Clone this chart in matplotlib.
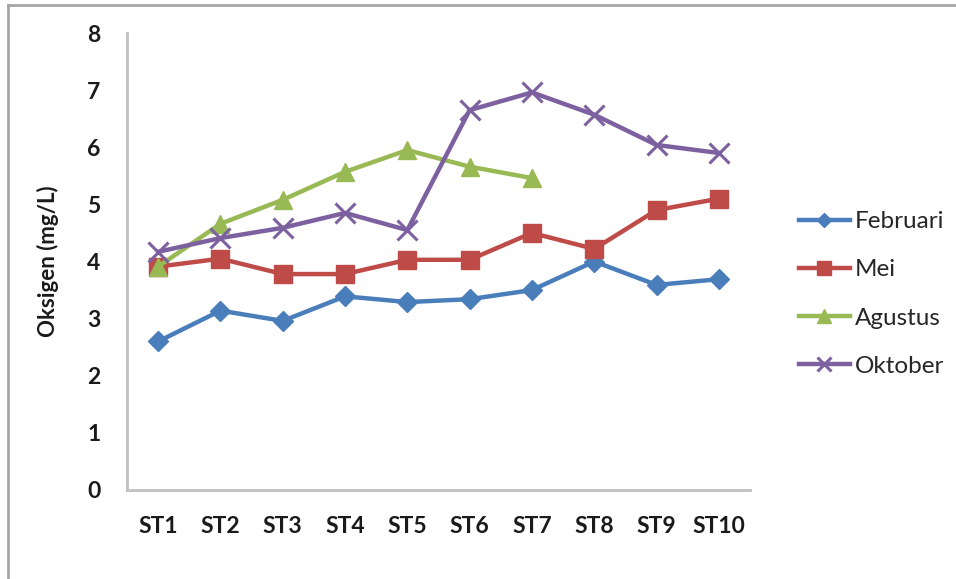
import matplotlib
matplotlib.use("Agg")
import matplotlib.pyplot as plt
from matplotlib.lines import Line2D

plt.rcParams['font.family'] = ['Lato', 'DejaVu Sans']

stations = ["ST1", "ST2", "ST3", "ST4", "ST5", "ST6", "ST7", "ST8", "ST9", "ST10"]
februari = [2.60, 3.14, 2.96, 3.39, 3.29, 3.34, 3.50, 4.00, 3.59, 3.69]
mei = [3.91, 4.05, 3.78, 3.78, 4.03, 4.03, 4.50, 4.22, 4.90, 5.10]
agustus = [3.91, 4.66, 5.08, 5.57, 5.95, 5.66, 5.46]
oktober = [4.17, 4.41, 4.59, 4.85, 4.55, 6.65, 6.96, 6.57, 6.04, 5.90]
y_ticks = [0, 1, 2, 3, 4, 5, 6, 7, 8]

fig = plt.figure(figsize=(9.56, 5.79), dpi=100)
ax = fig.add_axes([127 / 956, 1 - 490 / 579, (750 - 127) / 956, (490 - 33) / 579])

x = list(range(len(stations)))
ax.plot(x, februari, color="#4a7ebb", lw=3.2, marker="D", ms=10,
        label="Februari")
ax.plot(x, mei, color="#be4b48", lw=3.2, marker="s", ms=13,
        label="Mei")
ax.plot(x[:len(agustus)], agustus, color="#98b954", lw=3.2, marker="^", ms=13,
        label="Agustus")
ax.plot(x, oktober, color="#7d60a0", lw=3.2, marker="x", ms=14, mew=2.2,
        label="Oktober")

ax.set_xlim(-0.5, len(stations) - 0.5)
ax.set_ylim(0, 8)
ax.set_xticks(x)
ax.set_xticklabels(stations, fontsize=16.5, fontweight="bold", color="#1a1a1a")
ax.set_yticks(y_ticks)
ax.set_yticklabels([str(v) for v in y_ticks], fontsize=16.5, fontweight="bold",
                   color="#1a1a1a")
ax.tick_params(axis="both", length=0)
ax.tick_params(axis="y", pad=19)
ax.tick_params(axis="x", pad=19)

for side in ("top", "right"):
    ax.spines[side].set_visible(False)
for side in ("left", "bottom"):
    ax.spines[side].set_color("#c0c0c0")
    ax.spines[side].set_linewidth(2)

ax.set_ylabel("Oksigen (mg/L)", fontsize=16, fontweight="bold",
              color="#1a1a1a", labelpad=20)

leg = fig.legend(loc="center left", bbox_to_anchor=(777 / 956, 1 - 294 / 579),
                 frameon=False, fontsize=17.5, handlelength=2.1,
                 handletextpad=0.2, labelspacing=1.12, markerscale=0.75)
for t in leg.get_texts():
    t.set_color("#262626")

# outer frame edges
fig.add_artist(Line2D([8 / 956, 8 / 956], [0, 1 - 5 / 579],
                      transform=fig.transFigure, color="#a6a6a6", lw=2))
fig.add_artist(Line2D([8 / 956, 1], [1 - 5 / 579, 1 - 5 / 579],
                      transform=fig.transFigure, color="#a6a6a6", lw=2))

fig.savefig("out.png", dpi=100)
